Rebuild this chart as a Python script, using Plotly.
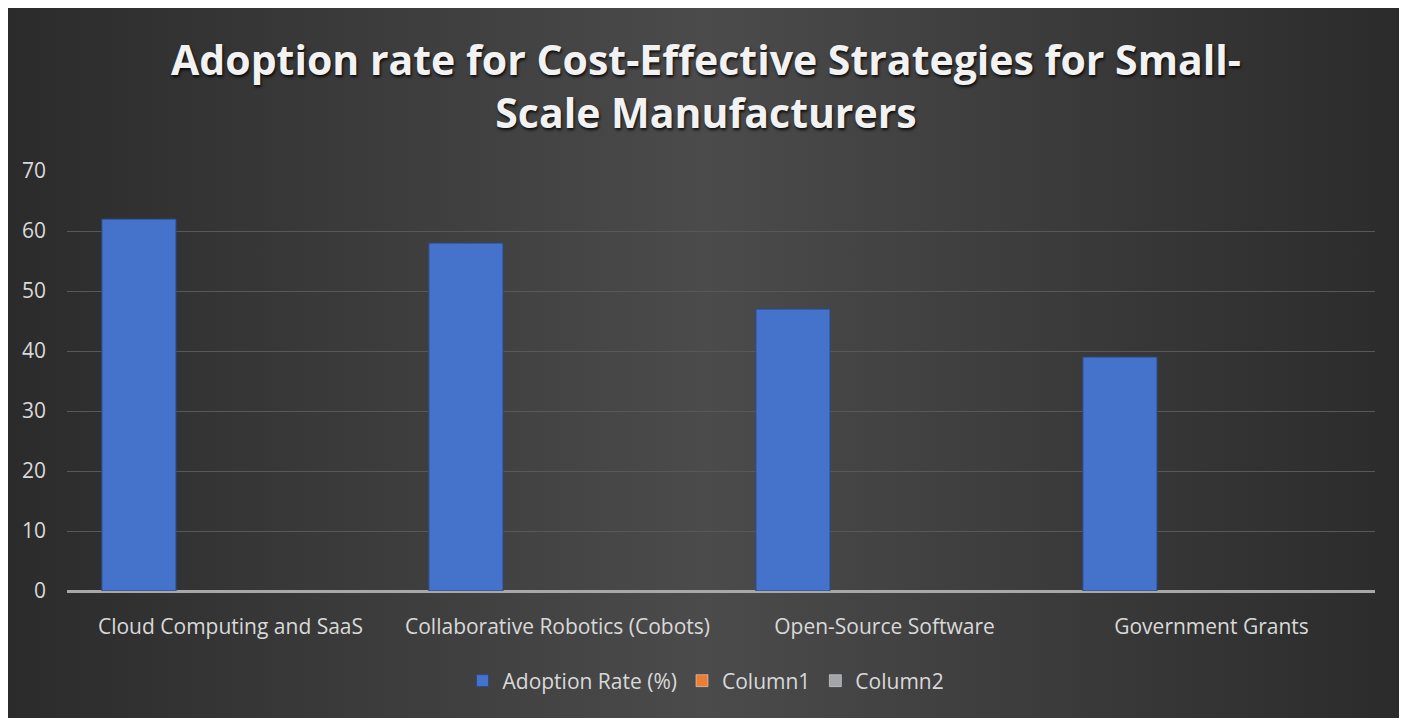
import plotly.graph_objects as go

# ---- data ----
categories = ["Cloud Computing and SaaS", "Collaborative Robotics (Cobots)",
              "Open-Source Software", "Government Grants"]
adoption_rate = [62, 58, 47, 39]
column1 = [None, None, None, None]
column2 = [None, None, None, None]
y_ticks = [0, 10, 20, 30, 40, 50, 60, 70]
title_text = "Adoption rate for Cost-Effective Strategies for Small-<br>Scale Manufacturers"

W, H = 1396, 718
TXT = "#d9d9d9"
FONT = "Open Sans"

fig = go.Figure()

# background panel with horizontal gradient (dark edges, lighter middle)
fig.add_trace(go.Scatter(
    x=[0, W, W, 0, 0], y=[0, 0, H, H, 0],
    mode="lines", line=dict(width=0), fill="toself",
    fillgradient=dict(type="horizontal",
                      colorscale=[[0, "#2b2b2b"], [0.5, "#4b4b4b"], [1, "#2b2b2b"]]),
    hoverinfo="skip", showlegend=False, xaxis="x", yaxis="y"))

fig.add_trace(go.Bar(name="Adoption Rate (%)", x=categories, y=adoption_rate,
                     marker=dict(color="#4573cc", line=dict(color="#2a4a86", width=1)),
                     xaxis="x2", yaxis="y2"))
fig.add_trace(go.Bar(name="Column1", x=categories, y=column1,
                     marker=dict(color="#ED7D31"), xaxis="x2", yaxis="y2"))
fig.add_trace(go.Bar(name="Column2", x=categories, y=column2,
                     marker=dict(color="#A5A5A5"), xaxis="x2", yaxis="y2"))

fig.update_layout(
    width=W, height=H,
    margin=dict(l=0, r=0, t=0, b=0, pad=0, autoexpand=False),
    paper_bgcolor="#3a3a3a", plot_bgcolor="rgba(0,0,0,0)",
    barmode="group", bargap=0.16, bargroupgap=0.19,
    font=dict(family=FONT, color=TXT, size=21),
    title=dict(text=title_text, x=0.5, xanchor="center",
               yref="container", y=1 - 67 / H, yanchor="middle",
               font=dict(family=FONT, size=41, color="#f2f2f2", weight="bold",
                         shadow="1px 2px 3px rgba(0,0,0,0.85)")),
    xaxis=dict(domain=[0, 1], range=[0, W], visible=False, fixedrange=True,
               automargin=False),
    yaxis=dict(domain=[0, 1], range=[0, H], visible=False, fixedrange=True,
               automargin=False),
    xaxis2=dict(domain=[59 / W, 1367 / W], anchor="y2", showgrid=False,
                showline=False, zeroline=False, ticks="", automargin=False,
                tickfont=dict(size=21, color=TXT), ticklabelstandoff=21),
    yaxis2=dict(domain=[135 / H, 555 / H], anchor="x2", range=[0, 70.02],
                tickvals=y_ticks, showgrid=True, gridcolor="#585858", gridwidth=1,
                zeroline=True, zerolinecolor="#a8a8a8", zerolinewidth=3,
                showline=False, ticks="", automargin=False,
                tickfont=dict(size=21, color=TXT), ticklabelstandoff=20),
    legend=dict(orientation="h", x=0.5, xanchor="center",
                yref="container", y=45 / H, yanchor="middle",
                bgcolor="rgba(0,0,0,0)", font=dict(size=21, color=TXT),
                traceorder="normal"),
    showlegend=True,
)

fig.write_html("out.html")
